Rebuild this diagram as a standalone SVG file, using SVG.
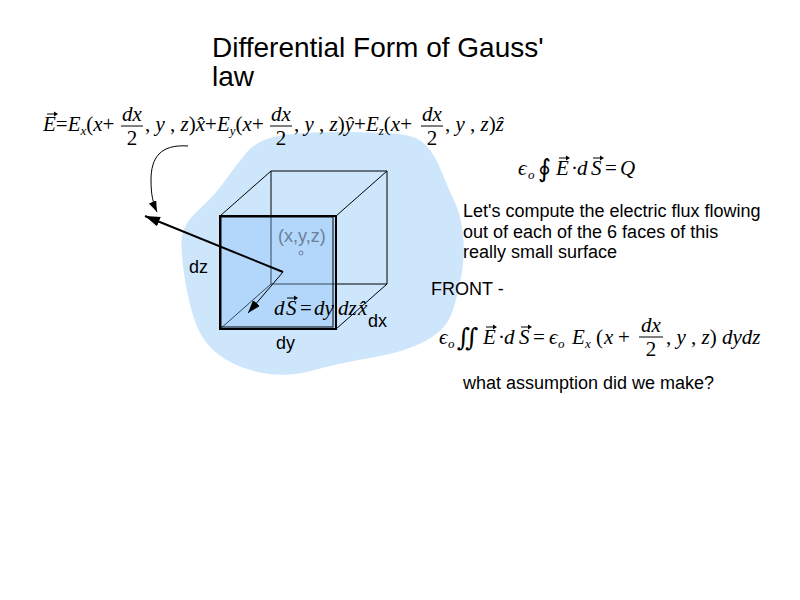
<svg xmlns="http://www.w3.org/2000/svg" width="800" height="600" viewBox="0 0 800 600">
<defs>
<style>
.sans{font-family:"Liberation Sans",Arial,sans-serif;fill:#000}
.m{font-family:"Liberation Serif","DejaVu Serif",serif;font-size:21px;fill:#000}
.i{font-style:italic}
.sub{font-size:13px;font-style:italic}
.int{font-family:"DejaVu Serif","Liberation Serif",serif;font-size:25px;font-style:normal}
.edge{stroke:#000;stroke-width:1;fill:none}
.inner{stroke:#34465a;stroke-width:1;fill:none}
.bar{stroke:#000;stroke-width:1}
</style>
<g id="vec">
<path d="M0,0 H8" stroke="#000" stroke-width="1"/>
<path d="M7,-2.5 L11,0 L7,2.5 z" fill="#000"/>
</g>
<marker id="ahThick" markerUnits="userSpaceOnUse" markerWidth="16" markerHeight="12" refX="15" refY="5" orient="auto">
<path d="M0,0 L15,5 L0,10 z" fill="#000"/>
</marker>
<marker id="ahThin" markerUnits="userSpaceOnUse" markerWidth="14" markerHeight="10" refX="13" refY="4.5" orient="auto">
<path d="M0,0 L13,4.5 L0,9 z" fill="#000"/>
</marker>
<marker id="ahCurve" markerUnits="userSpaceOnUse" markerWidth="12" markerHeight="10" refX="11" refY="4" orient="auto">
<path d="M0,0 L11,4 L0,8 z" fill="#000"/>
</marker>
</defs>
<rect width="800" height="600" fill="#fff"/>

<g id="title">
<text class="sans" x="212" y="57" font-size="28">Differential Form of Gauss'</text>
<text class="sans" x="212" y="86" font-size="28">law</text>
</g>

<g id="blob">
<path fill="#cde6fc" d="M278.5,136 Q300,132 340,132 Q380,132 399,134 Q418,136 426.5,145.5 Q435,155 441.5,171.5 Q448,188 454.5,201.5 Q461,215 463,235 Q465,255 461.5,275 Q458,295 452,312.5 Q446,330 425.5,341 Q405,352 372.5,357.5 Q340,363 312.5,370.5 Q285,378 260,372.5 Q235,367 219,355 Q203,343 196,324 Q189,305 185,280 Q181,255 181.5,240 Q182,225 198.5,210 Q215,195 225.5,180 Q236,165 246.5,152.5 Q257,140 278.5,136 Z"/>
</g>

<g id="equation-field" class="m">
<text x="43" y="131"><tspan class="i">E</tspan>=<tspan class="i">E</tspan><tspan class="sub" dy="4">x</tspan><tspan dy="-4">(</tspan><tspan class="i">x</tspan>+</text>
<use href="#vec" x="47" y="114"/>
<text x="132" y="121" text-anchor="middle" class="i">dx</text>
<line class="bar" x1="121" y1="126" x2="143" y2="126"/>
<text x="132" y="145" text-anchor="middle">2</text>
<text x="145" y="131">, <tspan class="i">y</tspan> , <tspan class="i">z</tspan>)<tspan class="i">x̂</tspan>+<tspan class="i">E</tspan><tspan class="sub" dy="4">y</tspan><tspan dy="-4">(</tspan><tspan class="i">x</tspan>+</text>
<text x="281" y="121" text-anchor="middle" class="i">dx</text>
<line class="bar" x1="270" y1="126" x2="292" y2="126"/>
<text x="281" y="145" text-anchor="middle">2</text>
<text x="294" y="131">, <tspan class="i">y</tspan> , <tspan class="i">z</tspan>)<tspan class="i">ŷ</tspan>+<tspan class="i">E</tspan><tspan class="sub" dy="4">z</tspan><tspan dy="-4">(</tspan><tspan class="i">x</tspan>+</text>
<text x="432" y="121" text-anchor="middle" class="i">dx</text>
<line class="bar" x1="421" y1="126" x2="443" y2="126"/>
<text x="432" y="145" text-anchor="middle">2</text>
<text x="445" y="131">, <tspan class="i">y</tspan> , <tspan class="i">z</tspan>)<tspan class="i">ẑ</tspan></text>
</g>

<g id="cube">
<line class="edge" x1="271" y1="171" x2="387" y2="171"/>
<line class="edge" x1="387" y1="171" x2="387" y2="284"/>
<line class="edge" x1="220" y1="216" x2="271" y2="171"/>
<line class="edge" x1="336" y1="216" x2="387" y2="171"/>
<line class="edge" x1="336" y1="329" x2="387" y2="284"/>
<line class="edge" x1="336" y1="284" x2="387" y2="284"/>
<rect x="220" y="216" width="115" height="112" fill="#b2d7fb"/>
<line class="edge" x1="271" y1="171" x2="271" y2="216"/>
<line class="inner" x1="271" y1="216" x2="271" y2="284"/>
<line class="inner" x1="271" y1="284" x2="336" y2="284"/>
<line class="inner" x1="220" y1="329" x2="271" y2="284"/>
<rect x="220" y="216" width="116" height="113" fill="none" stroke="#000" stroke-width="2"/>
<rect x="221" y="217" width="112" height="110" fill="none" stroke="#000" stroke-width="1"/>
</g>

<g id="center-point">
<text class="sans" x="278" y="242" font-size="18" style="fill:#6b7f99">(x,y,z)</text>
<circle cx="301" cy="253" r="2" fill="none" stroke="#6b7f99" stroke-width="1"/>
</g>

<g id="labels" class="sans" font-size="18">
<text x="189" y="273">dz</text>
<text x="276" y="349">dy</text>
<text x="368" y="327">dx</text>
</g>

<g id="connectors">
<path d="M188,146 C160,144 151,158 151,180 C151,195 153,203 157,212" fill="none" stroke="#000" stroke-width="1" marker-end="url(#ahCurve)"/>
<line x1="283" y1="272" x2="145" y2="216" stroke="#000" stroke-width="2" marker-end="url(#ahThick)"/>
<line x1="283" y1="272" x2="248" y2="313" stroke="#000" stroke-width="1" marker-end="url(#ahThin)"/>
</g>

<g id="area-element" class="m">
<text y="315"><tspan x="274" class="i">d</tspan><tspan x="286" class="i">S</tspan><tspan x="300">=</tspan><tspan x="314" class="i">dy</tspan><tspan x="338" class="i">dz</tspan><tspan x="358" class="i">x̂</tspan></text>
<use href="#vec" x="287" y="298"/>
</g>

<g id="gauss-law" class="m">
<text y="175"><tspan x="518" class="i">ϵ</tspan><tspan x="528" y="179" class="sub">o</tspan><tspan x="538" y="177" class="int">∮</tspan><tspan x="556" y="175" class="i">E</tspan><tspan x="571">·</tspan><tspan x="577" class="i">d</tspan><tspan x="591" class="i">S</tspan><tspan x="605">=</tspan><tspan x="620" class="i">Q</tspan></text>
<use href="#vec" x="559" y="158"/>
<use href="#vec" x="593" y="158"/>
</g>

<g id="explanation" class="sans" font-size="18">
<text x="463" y="217">Let's compute the electric flux flowing</text>
<text x="463" y="238">out of each of the 6 faces of this</text>
<text x="463" y="258">really small surface</text>
<text x="431" y="295">FRONT -</text>
<text x="463" y="389">what assumption did we make?</text>
</g>

<g id="front-flux" class="m">
<text y="344"><tspan x="439" class="i">ϵ</tspan><tspan x="448" y="348" class="sub">o</tspan><tspan x="457" y="346" class="int">∬</tspan><tspan x="483" y="344" class="i">E</tspan><tspan x="498">·</tspan><tspan x="504" class="i">d</tspan><tspan x="519" class="i">S</tspan><tspan x="533">=</tspan><tspan x="549" class="i">ϵ</tspan><tspan x="558" y="348" class="sub">o</tspan><tspan x="572" y="344" class="i">E</tspan><tspan x="585" y="348" class="sub">x</tspan><tspan x="596" y="344">(</tspan><tspan x="604" class="i">x</tspan><tspan x="618">+</tspan></text>
<use href="#vec" x="486" y="327"/>
<use href="#vec" x="521" y="327"/>
<text x="651" y="332" text-anchor="middle" class="i">dx</text>
<line class="bar" x1="639" y1="337" x2="663" y2="337"/>
<text x="651" y="356" text-anchor="middle">2</text>
<text x="666" y="344">, <tspan class="i">y</tspan> , <tspan class="i">z</tspan>) <tspan class="i">dydz</tspan></text>
</g>
</svg>
